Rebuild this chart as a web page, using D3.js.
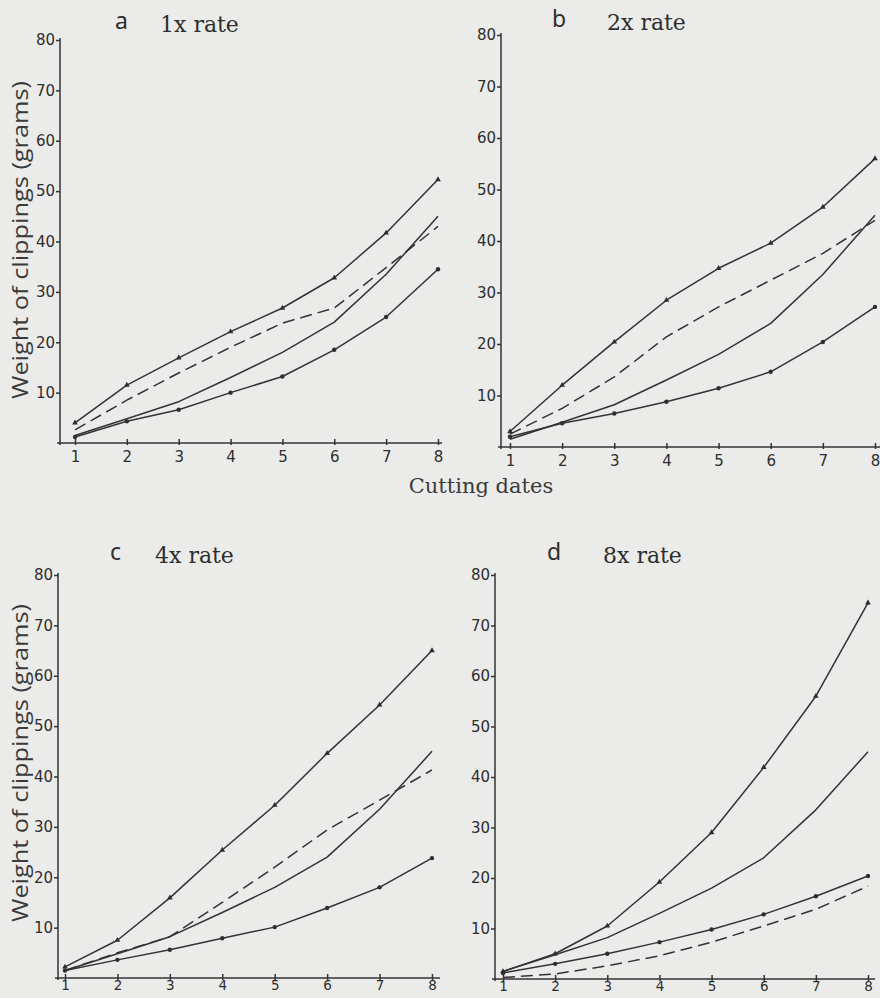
<!DOCTYPE html>
<html lang="en">
    <head>
        <meta charset="UTF-8">
        <style>
            html, body{
                margin: 0;
                padding: 0;
                background: #ebebe9;
            }
            svg{ display: block; }
            .series{ fill: none; stroke: #333; stroke-width: 1.5px; stroke-linejoin: round; }
            .series.dashed{ stroke-dasharray: 12 6; }
            .axis path, .axis line{ stroke: #333; stroke-width: 1.5px; }
            .axis text{ font-family: 'DejaVu Sans'; font-size: 15px; fill: #2e2e2e; }
            .axis.low text{ font-size: 13.5px; }
            .panelTitle{ font-family: 'DejaVu Serif'; font-size: 22px; fill: #2e2e2e; }
            .panelLetter{ font-family: 'Noto Sans'; font-size: 23px; fill: #2e2e2e; }
            .yLabel{ font-family: 'Open Sans'; font-size: 21px; fill: #3a3a3a; }
            .xLabel{ font-family: 'DejaVu Serif'; font-size: 21px; fill: #3a3a3a; }
        </style>
    </head>
    <body>
        <svg id="chart" width="880" height="998"></svg>

        <script src="https://d3js.org/d3.v7.min.js"></script>
        <script>
            // ---- data ----
            const dates = [1, 2, 3, 4, 5, 6, 7, 8]
            const yTicks = [10, 20, 30, 40, 50, 60, 70, 80]
            const xTickLabels = ['1', '2', '3', '4', '5', '6', '7', '8']

            // unmarked solid line, the same on every panel
            const control = [1.5, 4.8, 8.2, 13, 18, 24, 33.5, 45]

            const top1x    = [4, 11.5, 16.9, 22.1, 26.8, 32.8, 41.7, 52.3]
            const dashed1x = [2.6, 8.5, 13.9, 19, 23.8, 26.8, 34.8, 43]
            const bottom1x = [1.2, 4.3, 6.6, 10, 13.2, 18.5, 25, 34.5]

            const top2x    = [3, 12, 20.4, 28.5, 34.7, 39.6, 46.6, 56]
            const dashed2x = [2.5, 7.5, 13.6, 21.4, 27.2, 32.4, 37.6, 44]
            const bottom2x = [2, 4.6, 6.5, 8.8, 11.4, 14.6, 20.4, 27.2]

            const top4x    = [2.2, 7.5, 15.9, 25.4, 34.3, 44.6, 54.2, 65]
            const dashed4x = [1.5, 5, 8.2, 15, 22, 29.4, 35.3, 41.3]
            const bottom4x = [1.5, 3.6, 5.6, 7.9, 10.1, 13.9, 18, 23.8]

            const top8x    = [1.5, 5, 10.5, 19.2, 29, 41.9, 56, 74.5]
            const dashed8x = [0.3, 1, 2.6, 4.6, 7.3, 10.5, 13.8, 18.4]
            const bottom8x = [1.2, 3, 5, 7.3, 9.8, 12.8, 16.4, 20.4]

            const panelLetters = ['a', 'b', 'c', 'd']
            const panelTitles  = ['1x rate', '2x rate', '4x rate', '8x rate']

            // ---- layout ----
            const panels = [
                {axisX: 60,  x1: 75,  x8: 438, y0: 443, y80: 40,  axisEnd: 442, letterX: 115, titleX: 160, titleY: 32,  yLabelY: 240, low: false,
                 top: top1x, dashed: dashed1x, bottom: bottom1x},
                {axisX: 501, x1: 510, x8: 875, y0: 447, y80: 35,  axisEnd: 880, letterX: 552, titleX: 607, titleY: 30,  yLabelY: null, low: false,
                 top: top2x, dashed: dashed2x, bottom: bottom2x},
                {axisX: 58,  x1: 65,  x8: 432, y0: 978, y80: 575, axisEnd: 440, letterX: 110, titleX: 155, titleY: 563, yLabelY: 763, low: true,
                 top: top4x, dashed: dashed4x, bottom: bottom4x},
                {axisX: 495, x1: 503, x8: 868, y0: 979, y80: 575, axisEnd: 875, letterX: 547, titleX: 603, titleY: 563, yLabelY: null, low: true,
                 top: top8x, dashed: dashed8x, bottom: bottom8x}
            ]

            const svg = d3.select('#chart')

            panels.forEach((p, i) => {
                const g = svg.append('g').attr('class', 'panel')
                const x = d3.scaleLinear().domain([1, 8]).range([p.x1, p.x8])
                const y = d3.scaleLinear().domain([0, 80]).range([p.y0, p.y80])

                // y axis
                g.append('g')
                    .attr('class', 'axis')
                    .attr('transform', `translate(${p.axisX},0)`)
                    .call(d3.axisLeft(y).tickValues(yTicks).tickSize(4).tickPadding(1).tickSizeOuter(0))
                    .call(a => a.select('.domain').attr('d', `M0,${p.y0 + 2}V${p.y80 - 2}`))

                // x axis
                const xAxis = g.append('g')
                    .attr('class', p.low ? 'axis low' : 'axis')
                    .attr('transform', `translate(0,${p.y0})`)
                    .call(d3.axisBottom(x).tickValues(dates).tickFormat((d, k) => xTickLabels[k])
                        .tickSize(p.low ? 2 : 4).tickPadding(p.low ? 0 : 4).tickSizeOuter(0))
                xAxis.select('.domain').attr('d', `M${p.axisX - 3},0H${p.axisEnd}`)
                xAxis.selectAll('.tick line').attr('y1', -4).attr('y2', 2)

                const line = d3.line().x((d, k) => x(dates[k])).y(d => y(d))

                g.append('path').attr('class', 'series').attr('d', line(control))
                g.append('path').attr('class', 'series dashed').attr('d', line(p.dashed))
                g.append('path').attr('class', 'series').attr('d', line(p.top))
                g.append('path').attr('class', 'series').attr('d', line(p.bottom))

                // markers
                g.selectAll('.topMark').data(p.top).join('path')
                    .attr('transform', (d, k) => `translate(${x(dates[k])},${y(d)})`)
                    .attr('d', d3.symbol(d3.symbolTriangle, 14))
                    .attr('fill', '#2e2e2e')
                g.selectAll('.bottomMark').data(p.bottom).join('circle')
                    .attr('cx', (d, k) => x(dates[k]))
                    .attr('cy', d => y(d))
                    .attr('r', 2.2)
                    .attr('fill', '#2e2e2e')

                // title
                g.append('text').attr('class', 'panelLetter')
                    .attr('x', p.letterX).attr('y', p.titleY - 3)
                    .text(panelLetters[i])
                g.append('text').attr('class', 'panelTitle')
                    .attr('x', p.titleX).attr('y', p.titleY)
                    .text(panelTitles[i])

                if (p.yLabelY !== null) {
                    g.append('text').attr('class', 'yLabel')
                        .attr('transform', `translate(28,${p.yLabelY}) rotate(-90)`)
                        .attr('text-anchor', 'middle')
                        .attr('textLength', 318)
                        .attr('lengthAdjust', 'spacingAndGlyphs')
                        .text('Weight of clippings (grams)')
                }
            })

            svg.append('text').attr('class', 'xLabel')
                .attr('x', 481).attr('y', 493)
                .attr('text-anchor', 'middle')
                .text('Cutting dates')
        </script>
    </body>
</html>
